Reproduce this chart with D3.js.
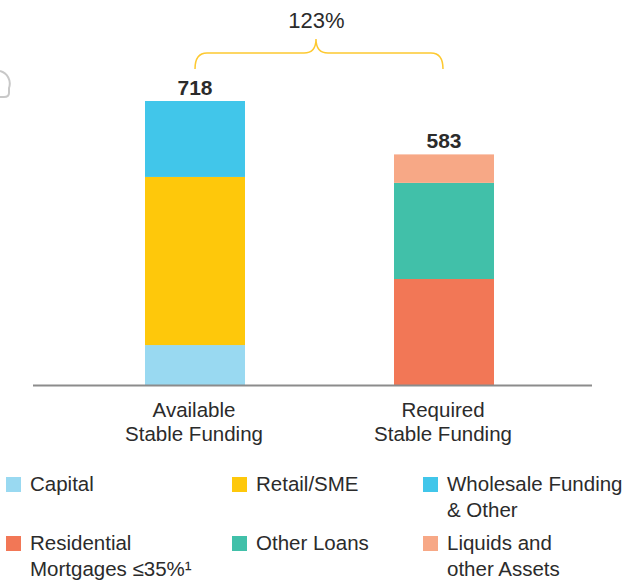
<!DOCTYPE html>
<html lang="en">
<head>
  <meta charset="UTF-8">
  <title>Stable Funding</title>
  <style>
    body { margin: 0; background: #fff; }
    svg { display: block; font-family: "Liberation Sans", Arial, sans-serif; }
    .lbl { fill: #2b2b2b; }
  </style>
</head>
<body>
  <svg id="chart" width="622" height="581"></svg>

  <script src="https://d3js.org/d3.v7.min.js"></script>
  <script>
    // Data
    const categories = ['Available Stable Funding', 'Required Stable Funding'];
    const categoryLines = [['Available', 'Stable Funding'], ['Required', 'Stable Funding']];
    const totals = [718, 583];
    const ratioLabel = '123%';

    const asfSeries = ['Capital', 'Retail/SME', 'Wholesale Funding & Other'];
    const asfValues = [101, 425, 192];
    const rsfSeries = ['Residential Mortgages ≤35%¹', 'Other Loans', 'Liquids and other Assets'];
    const rsfValues = [268, 243, 72];

    const legendLines = [
      ['Capital'], ['Retail/SME'], ['Wholesale Funding', '& Other'],
      ['Residential', 'Mortgages ≤35%¹'], ['Other Loans'], ['Liquids and', 'other Assets']
    ];

    const colors = {
      'Capital': '#99d9f1',
      'Retail/SME': '#fec80b',
      'Wholesale Funding & Other': '#41c6ea',
      'Residential Mortgages ≤35%¹': '#f27756',
      'Other Loans': '#41c0a9',
      'Liquids and other Assets': '#f7a886'
    };

    const svg = d3.select('#chart');

    // Scales
    const x = d3.scalePoint().domain(categories).range([195, 444]);
    const barW = 100;
    const y = d3.scaleLinear().domain([0, 718]).range([385, 101]);

    // Build stacked segments
    const stacks = [
      { cat: categories[0], series: asfSeries, values: asfValues },
      { cat: categories[1], series: rsfSeries, values: rsfValues }
    ];
    const segs = [];
    stacks.forEach(s => {
      let acc = 0;
      s.values.forEach((v, i) => {
        segs.push({ cat: s.cat, name: s.series[i], y0: acc, y1: acc + v });
        acc += v;
      });
    });

    svg.append('g').selectAll('rect')
      .data(segs)
      .enter().append('rect')
      .attr('x', d => x(d.cat) - barW / 2)
      .attr('width', barW)
      .attr('y', d => y(d.y1))
      .attr('height', d => y(d.y0) - y(d.y1))
      .attr('fill', d => colors[d.name]);

    // baseline
    svg.append('line')
      .attr('x1', 33).attr('x2', 592)
      .attr('y1', y(0) + 0.5).attr('y2', y(0) + 0.5)
      .attr('stroke', '#8c8c8c')
      .attr('stroke-width', 2);

    // totals
    svg.append('g').selectAll('text')
      .data(categories)
      .enter().append('text')
      .attr('class', 'lbl')
      .attr('x', d => x(d))
      .attr('y', (d, i) => y(totals[i]) - 6)
      .attr('text-anchor', 'middle')
      .attr('font-size', 21)
      .attr('font-weight', 'bold')
      .text((d, i) => totals[i]);

    // category labels
    categories.forEach((c, i) => {
      const t = svg.append('text')
        .attr('class', 'lbl')
        .attr('text-anchor', 'middle')
        .attr('font-size', 20.5);
      categoryLines[i].forEach((ln, j) => {
        t.append('tspan').attr('x', x(c) - 1).attr('y', 417 + j * 24).text(ln);
      });
    });

    // ratio bracket
    const bl = x(categories[0]), br = x(categories[1]) - 1;
    const bm = (bl + br) / 2 - 3;
    const by = 53, bEnd = 69, bTip = 39, r = 12;
    const p = d3.path();
    p.moveTo(bl, bEnd);
    p.quadraticCurveTo(bl, by, bl + r, by);
    p.lineTo(bm - r, by);
    p.quadraticCurveTo(bm, by, bm, bTip);
    p.quadraticCurveTo(bm, by, bm + r, by);
    p.lineTo(br - r, by);
    p.quadraticCurveTo(br, by, br, bEnd);
    svg.append('path')
      .attr('d', p.toString())
      .attr('fill', 'none')
      .attr('stroke', '#fdc931')
      .attr('stroke-width', 1.5);

    svg.append('text')
      .attr('class', 'lbl')
      .attr('x', bm + 0.5)
      .attr('y', 28)
      .attr('text-anchor', 'middle')
      .attr('font-size', 22)
      .text(ratioLabel);

    // partial grey icon at left edge
    svg.append('path')
      .attr('d', 'M0,71 A13,13 0 0 1 9,88 L9,93 Q9,97 4,97 L0,97')
      .attr('fill', 'none')
      .attr('stroke', '#c8c8c8')
      .attr('stroke-width', 2);

    // legend
    const legendNames = asfSeries.concat(rsfSeries);
    const colX = [6, 232, 423];
    const rowY = [484, 543];
    const legend = svg.append('g').selectAll('g')
      .data(legendNames)
      .enter().append('g')
      .attr('transform', (d, i) => `translate(${colX[i % 3]},${rowY[Math.floor(i / 3)]})`);

    legend.append('rect')
      .attr('x', 0).attr('y', -7)
      .attr('width', 15).attr('height', 15)
      .attr('fill', d => colors[d]);

    legend.each(function(d, i) {
      const t = d3.select(this).append('text')
        .attr('class', 'lbl')
        .attr('font-size', 20.5);
      legendLines[i].forEach((ln, j) => {
        t.append('tspan').attr('x', 24).attr('y', 7 + j * 26).text(ln);
      });
    });
  </script>
</body>
</html>
